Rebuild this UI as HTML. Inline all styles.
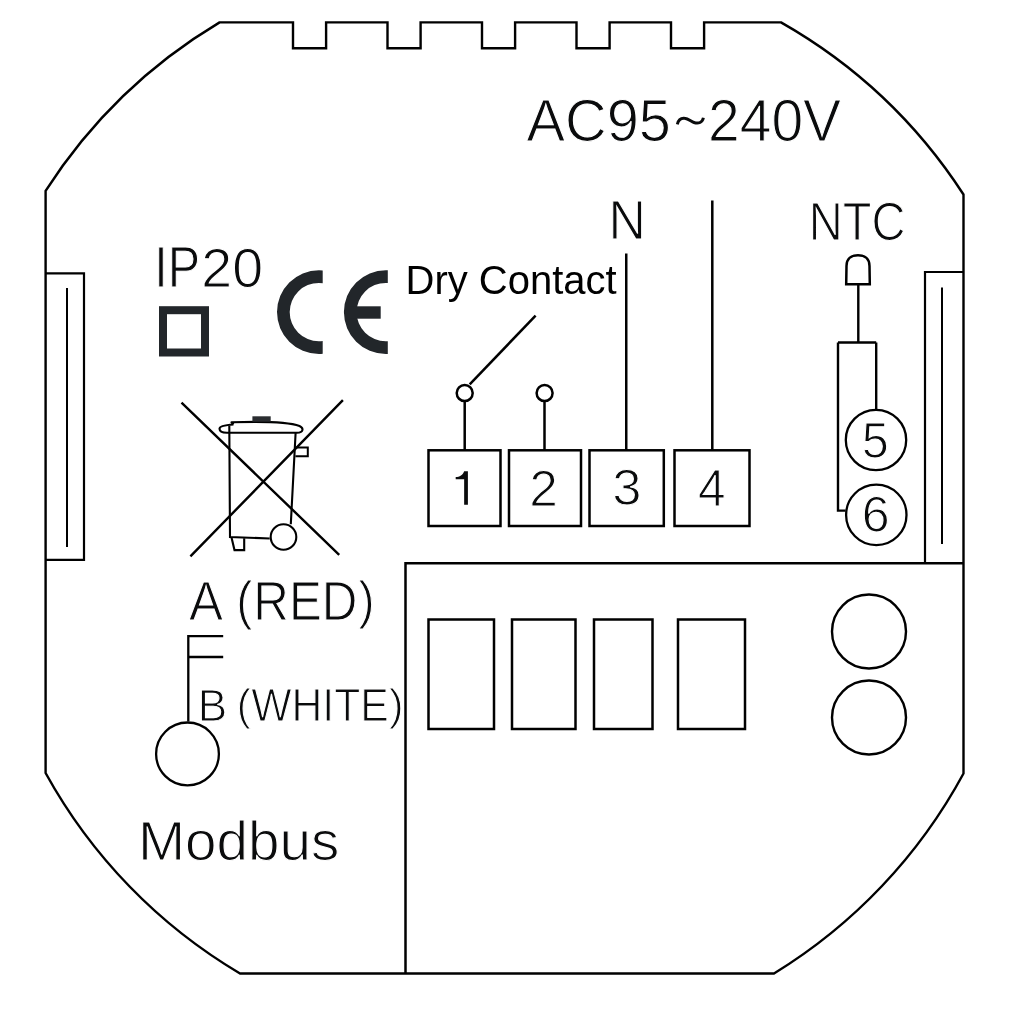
<!DOCTYPE html>
<html><head><meta charset="utf-8">
<style>
html,body{margin:0;padding:0;background:#fff;width:1024px;height:1024px;overflow:hidden}
svg{display:block;will-change:transform}
text{font-family:"Liberation Sans",sans-serif}
</style></head>
<body>
<svg width="1024" height="1024" viewBox="0 0 1024 1024">
<g fill="none" stroke="#000" stroke-width="2.2" stroke-linejoin="miter">
<!-- outline -->
<path stroke-width="2.4" d="M219.6 22.4 H293.0 V48.3 H326.1 V22.4 H387.5 V48.3 H420.6 V22.4 H482.0 V48.3 H515.1 V22.4 H576.5 V48.3 H609.6 V22.4 H671.0 V48.3 H704.1 V22.4 H781 A530 530 0 0 1 963.5 194.5 V773.5 A530 530 0 0 1 774 973.5 H240 A530 530 0 0 1 45.6 773 V190.9 A530 530 0 0 1 219.6 22.4 Z"/>
<!-- side bars -->
<path d="M45.6 273.3 H84 V559.8 H45.6"/>
<path d="M67 288 V547" stroke-width="2"/>
<path d="M963.5 272 H925 V563.5"/>
<path d="M942 287.5 V544" stroke-width="2"/>
<!-- lower box -->
<path d="M963.5 563.2 H405.5 V973.5" stroke-width="2.5"/>
<rect x="428.5" y="619.5" width="65.5" height="109.5" stroke-width="2.5"/>
<rect x="512" y="619.5" width="63.5" height="109.5" stroke-width="2.5"/>
<rect x="594" y="619.5" width="58.5" height="109.5" stroke-width="2.5"/>
<rect x="678" y="619.5" width="67" height="109.5" stroke-width="2.5"/>
<circle cx="869" cy="631.5" r="37" stroke-width="2.4"/>
<circle cx="869" cy="717.5" r="37" stroke-width="2.4"/>
<!-- terminals -->
<rect x="428.5" y="450.3" width="72" height="75.7" stroke-width="2.5"/>
<rect x="509" y="450.3" width="72" height="75.7" stroke-width="2.5"/>
<rect x="589.5" y="450.3" width="74.3" height="75.7" stroke-width="2.5"/>
<rect x="674.5" y="450.3" width="75" height="75.7" stroke-width="2.5"/>
<path d="M464.7 402 V451 M544.5 402 V451 M626.25 253.4 V451 M712.3 200.6 V451" stroke-width="2.5"/>
<circle cx="464.7" cy="393.1" r="8" stroke-width="2.5"/>
<circle cx="544.6" cy="393.1" r="8" stroke-width="2.5"/>
<path d="M469.7 384.4 L535.6 315.6" stroke-width="2.5"/>
<!-- NTC -->
<path d="M846.2 284.3 L846.5 266 C846.5 259 851 255.3 858 255.3 C865 255.3 869.5 259 869.5 266 L869.8 284.3 Z" stroke-width="2.5"/>
<path d="M858.3 284 V342.5 M838 342.5 H876.2 M838 342.5 V510.6 H845.5 M876.2 342.5 V409.5" stroke-width="2.4"/>
<circle cx="876" cy="440" r="30.2" stroke-width="2.3"/>
<circle cx="876.3" cy="514.9" r="30.2" stroke-width="2.3"/>
<!-- trash -->
<path d="M181.5 402.6 L339.2 554.8 M342.9 400.2 L190.4 556.4" stroke-width="2.4"/>
<path d="M229.3 426 L230 537 L269.7 538.5 M295.6 433 L290.8 524.2" stroke-width="2.1"/>
<path stroke-linejoin="round" d="M233.5 424.5 L231.5 422.3 C262 421.3 290 422.5 299.5 426 C303.8 428 303.8 432.7 297 432.7 H227 C222 432.7 219.5 431 219.5 428.8 C219.5 426 225 425 233.5 424.5" stroke-width="2.1"/>
<rect x="252.4" y="416.3" width="18.3" height="5.4" fill="#2a2d30" stroke="none"/>
<path d="M295.4 447.4 H307.8 V456.3 H295.4" stroke-width="2"/>
<circle cx="283.5" cy="537" r="12.8" stroke-width="2.1"/>
<path d="M231.4 537 L234.5 550.1 H244.2 V538.3" stroke-width="2.1"/>
<!-- modbus -->
<path d="M223.2 636.2 H188.3 V721.6 M188.3 657 H223.2" stroke-width="2.3"/>
<circle cx="187.5" cy="753.9" r="31.4" stroke-width="2.3"/>
</g>
<!-- IP square -->
<rect x="163" y="310.2" width="42" height="42.3" fill="none" stroke="#22262a" stroke-width="8"/>
<!-- CE -->
<g fill="#22262a">
<clipPath id="cc"><rect x="0" y="0" width="322.7" height="1024"/></clipPath>
<clipPath id="ce"><rect x="0" y="0" width="387.8" height="1024"/></clipPath>
<path clip-path="url(#cc)" fill-rule="evenodd" d="M318.9 270.2 A41.9 41.9 0 1 0 318.9 354 A41.9 41.9 0 1 0 318.9 270.2 Z M318.9 282.9 A29.2 29.2 0 1 0 318.9 341.3 A29.2 29.2 0 1 0 318.9 282.9 Z"/>
<path clip-path="url(#ce)" fill-rule="evenodd" d="M385.8 270.2 A41.9 41.9 0 1 0 385.8 354 A41.9 41.9 0 1 0 385.8 270.2 Z M385.8 282.9 A29.2 29.2 0 1 0 385.8 341.3 A29.2 29.2 0 1 0 385.8 282.9 Z"/>
<rect x="350" y="306.3" width="30.7" height="12.4"/>
</g>
<!-- texts -->
<path fill="#0a0b0c" d="M464.15 471.15 H467.9 V504.8 H464.15 V479.3 H455.7 V476.9 C459.5 476.9 463 475 464.15 471.15 Z"/>
<path fill="none" stroke="#0a0b0c" stroke-width="2.9" d="M677.3 124.3 C678.5 119.5 681.5 118 684.5 118.3 C688.5 118.6 691 121.5 694 122.5 C698.5 124 702.5 122.5 703.4 117.8"/>
<text transform="translate(526.44 141.40) scale(0.9640 1)" font-size="59.93" fill="#0a0b0c" stroke="#fff" stroke-width="1.1">AC95</text>
<text transform="translate(707.97 141.40) scale(0.9516 1)" font-size="59.93" fill="#0a0b0c" stroke="#fff" stroke-width="1.1">240V</text>
<text transform="translate(608.39 238.60) scale(0.9412 1)" font-size="54.97" fill="#0a0b0c" stroke="#fff" stroke-width="1.1">N</text>
<text transform="translate(808.74 240.15) scale(0.8728 1)" font-size="53.97" fill="#0a0b0c" stroke="#fff" stroke-width="1.25">NTC</text>
<text transform="translate(154.19 286.80) scale(0.8542 1)" font-size="56.77" fill="#0a0b0c" stroke="#fff" stroke-width="1.1">IP</text>
<text transform="translate(201.27 286.50) scale(0.9946 1)" font-size="55.84" fill="#0a0b0c" stroke="#fff" stroke-width="1.1">20</text>
<text transform="translate(405.54 294.40) scale(1.0019 1)" font-size="39.93" fill="#000">Dry Contact</text>
<text transform="translate(529.27 505.70) scale(1.0112 1)" font-size="50.89" fill="#0a0b0c" stroke="#fff" stroke-width="1.1">2</text>
<text transform="translate(612.37 504.90) scale(1.0533 1)" font-size="49.85" fill="#0a0b0c" stroke="#fff" stroke-width="1.1">3</text>
<text transform="translate(698.10 505.80) scale(0.9714 1)" font-size="50.98" fill="#0a0b0c" stroke="#fff" stroke-width="1.1">4</text>
<text transform="translate(861.89 457.90) scale(0.9495 1)" font-size="50.59" fill="#0a0b0c" stroke="#fff" stroke-width="1.1">5</text>
<text transform="translate(861.77 531.50) scale(1.0091 1)" font-size="49.71" fill="#0a0b0c" stroke="#fff" stroke-width="1.1">6</text>
<text transform="translate(188.98 620.40) scale(0.9200 1)" font-size="55.49" fill="#0a0b0c" stroke="#fff" stroke-width="1.1">A</text>
<text transform="translate(236.27 618.95) scale(0.9143 1)" font-size="52.86" fill="#0a0b0c" stroke="#fff" stroke-width="1.1">(</text>
<text transform="translate(253.34 620.40) scale(0.8922 1)" font-size="55.27" fill="#0a0b0c" stroke="#fff" stroke-width="1.1">RED</text>
<text transform="translate(358.60 618.45) scale(0.9333 1)" font-size="52.03" fill="#0a0b0c" stroke="#fff" stroke-width="1.1">)</text>
<text transform="translate(197.63 720.60) scale(0.9802 1)" font-size="45.04" fill="#0a0b0c" stroke="#fff" stroke-width="1.1">B</text>
<text transform="translate(236.80 720.20) scale(0.9538 1)" font-size="44.07" fill="#0a0b0c" stroke="#fff" stroke-width="1.1">(</text>
<text transform="translate(251.17 720.80) scale(0.9317 1)" font-size="45.86" fill="#0a0b0c" stroke="#fff" stroke-width="1.1">WHITE</text>
<text transform="translate(388.93 720.15) scale(0.9800 1)" font-size="44.67" fill="#0a0b0c" stroke="#fff" stroke-width="1.1">)</text>
<text transform="translate(137.97 859.70) scale(1.0152 1)" font-size="55.74" fill="#0a0b0c" stroke="#fff" stroke-width="1.1">Modbus</text>
</svg>
</body></html>
